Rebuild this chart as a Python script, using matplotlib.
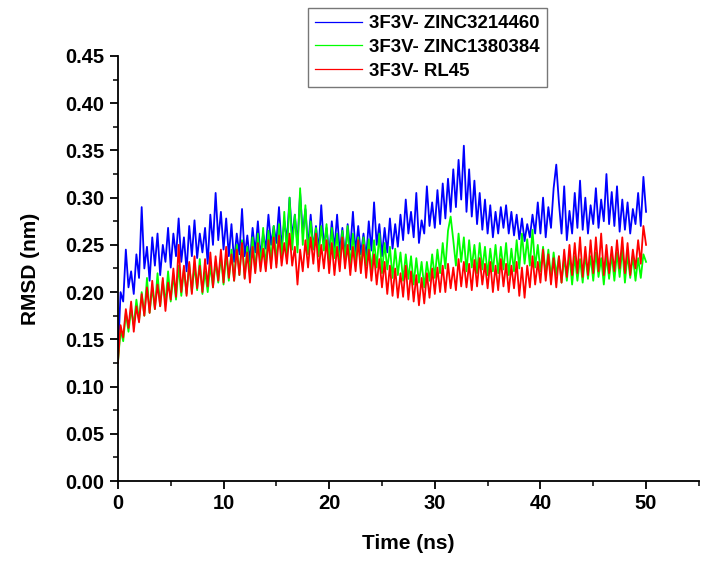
import numpy as np
import matplotlib.pyplot as plt
from matplotlib.ticker import MultipleLocator

# RMSD values, one every 0.25 ns (4 per ns row)
time_ns = np.arange(0, 50.01, 0.25)

rmsd_zinc3214460 = [
    0.130, 0.200, 0.190, 0.245,  0.205, 0.222, 0.198, 0.240,
    0.215, 0.290, 0.225, 0.248,  0.212, 0.258, 0.228, 0.262,
    0.218, 0.250, 0.232, 0.268,  0.226, 0.262, 0.238, 0.278,
    0.232, 0.258, 0.222, 0.270,  0.238, 0.276, 0.236, 0.262,
    0.242, 0.268, 0.230, 0.282,  0.250, 0.305, 0.255, 0.285,
    0.245, 0.278, 0.238, 0.272,  0.232, 0.262, 0.240, 0.288,
    0.238, 0.260, 0.232, 0.268,  0.242, 0.275, 0.238, 0.262,
    0.246, 0.282, 0.250, 0.270,  0.252, 0.290, 0.248, 0.275,
    0.255, 0.300, 0.258, 0.282,  0.250, 0.305, 0.262, 0.288,
    0.248, 0.282, 0.246, 0.270,  0.244, 0.292, 0.248, 0.268,
    0.240, 0.275, 0.245, 0.282,  0.242, 0.268, 0.238, 0.272,
    0.245, 0.285, 0.242, 0.270,  0.240, 0.262, 0.236, 0.275,
    0.244, 0.295, 0.250, 0.272,  0.238, 0.268, 0.242, 0.278,
    0.246, 0.272, 0.248, 0.282,  0.255, 0.298, 0.262, 0.285,
    0.258, 0.305, 0.252, 0.276,  0.262, 0.312, 0.270, 0.295,
    0.268, 0.308, 0.272, 0.315,  0.278, 0.320, 0.285, 0.330,
    0.290, 0.340, 0.298, 0.355,  0.285, 0.330, 0.280, 0.318,
    0.272, 0.305, 0.266, 0.298,  0.262, 0.292, 0.258, 0.285,
    0.262, 0.290, 0.268, 0.292,  0.262, 0.285, 0.260, 0.282,
    0.256, 0.278, 0.254, 0.272,  0.258, 0.282, 0.262, 0.295,
    0.262, 0.300, 0.258, 0.290,  0.268, 0.310, 0.335, 0.295,
    0.262, 0.312, 0.255, 0.286,  0.262, 0.305, 0.268, 0.318,
    0.266, 0.300, 0.262, 0.292,  0.272, 0.310, 0.268, 0.298,
    0.275, 0.325, 0.272, 0.306,  0.270, 0.312, 0.264, 0.298,
    0.266, 0.295, 0.262, 0.288,  0.272, 0.305, 0.270, 0.322,
    0.285,
]

rmsd_zinc1380384 = [
    0.125, 0.160, 0.148, 0.178,  0.158, 0.182, 0.165, 0.192,
    0.170, 0.200, 0.175, 0.215,  0.178, 0.205, 0.182, 0.220,
    0.185, 0.212, 0.188, 0.222,  0.190, 0.218, 0.192, 0.228,
    0.196, 0.225, 0.198, 0.230,  0.200, 0.228, 0.202, 0.235,
    0.198, 0.222, 0.200, 0.228,  0.205, 0.232, 0.210, 0.238,
    0.208, 0.240, 0.212, 0.245,  0.212, 0.250, 0.218, 0.255,
    0.215, 0.248, 0.220, 0.258,  0.222, 0.262, 0.228, 0.268,
    0.225, 0.265, 0.232, 0.270,  0.230, 0.272, 0.236, 0.285,
    0.238, 0.300, 0.245, 0.282,  0.242, 0.310, 0.250, 0.292,
    0.240, 0.275, 0.245, 0.268,  0.238, 0.270, 0.244, 0.272,
    0.232, 0.268, 0.236, 0.262,  0.230, 0.265, 0.234, 0.270,
    0.226, 0.262, 0.232, 0.258,  0.224, 0.258, 0.228, 0.256,
    0.222, 0.255, 0.226, 0.262,  0.220, 0.252, 0.224, 0.248,
    0.215, 0.246, 0.218, 0.242,  0.212, 0.240, 0.214, 0.238,
    0.208, 0.236, 0.210, 0.232,  0.205, 0.232, 0.212, 0.240,
    0.215, 0.245, 0.220, 0.252,  0.225, 0.265, 0.280, 0.255,
    0.228, 0.262, 0.232, 0.258,  0.222, 0.255, 0.226, 0.250,
    0.220, 0.252, 0.224, 0.248,  0.218, 0.246, 0.222, 0.250,
    0.220, 0.248, 0.224, 0.252,  0.218, 0.246, 0.222, 0.255,
    0.225, 0.262, 0.230, 0.256,  0.228, 0.266, 0.226, 0.250,
    0.222, 0.248, 0.218, 0.245,  0.215, 0.242, 0.218, 0.238,
    0.210, 0.236, 0.212, 0.240,  0.208, 0.238, 0.212, 0.235,
    0.210, 0.240, 0.214, 0.238,  0.212, 0.242, 0.216, 0.236,
    0.208, 0.238, 0.214, 0.240,  0.212, 0.242, 0.216, 0.246,
    0.210, 0.240, 0.215, 0.238,  0.212, 0.236, 0.215, 0.240,
    0.232,
]

rmsd_rl45 = [
    0.125, 0.165, 0.152, 0.182,  0.162, 0.190, 0.158, 0.185,
    0.168, 0.198, 0.175, 0.205,  0.178, 0.212, 0.182, 0.208,
    0.185, 0.215, 0.180, 0.210,  0.192, 0.225, 0.195, 0.250,
    0.200, 0.228, 0.196, 0.232,  0.198, 0.238, 0.204, 0.228,
    0.200, 0.235, 0.206, 0.242,  0.205, 0.238, 0.212, 0.245,
    0.210, 0.248, 0.215, 0.240,  0.212, 0.245, 0.218, 0.252,
    0.214, 0.242, 0.210, 0.248,  0.220, 0.252, 0.222, 0.246,
    0.222, 0.255, 0.225, 0.258,  0.226, 0.260, 0.228, 0.252,
    0.230, 0.262, 0.228, 0.248,  0.208, 0.245, 0.222, 0.255,
    0.226, 0.258, 0.230, 0.262,  0.222, 0.250, 0.225, 0.255,
    0.220, 0.252, 0.218, 0.248,  0.222, 0.258, 0.225, 0.250,
    0.218, 0.248, 0.222, 0.255,  0.220, 0.250, 0.215, 0.245,
    0.212, 0.240, 0.208, 0.235,  0.205, 0.232, 0.198, 0.228,
    0.196, 0.225, 0.194, 0.220,  0.195, 0.228, 0.192, 0.222,
    0.190, 0.218, 0.186, 0.215,  0.188, 0.220, 0.194, 0.225,
    0.198, 0.226, 0.200, 0.228,  0.200, 0.230, 0.204, 0.226,
    0.202, 0.235, 0.206, 0.232,  0.205, 0.230, 0.202, 0.234,
    0.206, 0.236, 0.208, 0.230,  0.204, 0.232, 0.200, 0.228,
    0.202, 0.235, 0.206, 0.230,  0.200, 0.228, 0.204, 0.232,
    0.196, 0.226, 0.194, 0.228,  0.205, 0.238, 0.208, 0.232,
    0.210, 0.245, 0.212, 0.240,  0.208, 0.236, 0.205, 0.238,
    0.210, 0.245, 0.216, 0.250,  0.218, 0.252, 0.220, 0.258,
    0.216, 0.248, 0.218, 0.255,  0.220, 0.258, 0.222, 0.262,
    0.218, 0.250, 0.220, 0.248,  0.222, 0.255, 0.225, 0.258,
    0.220, 0.252, 0.218, 0.245,  0.225, 0.255, 0.230, 0.270,
    0.250,
]

labels = ['3F3V- ZINC3214460', '3F3V- ZINC1380384', '3F3V- RL45']
colors = ['#0000ff', '#00ff00', '#ff0000']

plt.rcParams['font.family'] = ['Liberation Sans', 'DejaVu Sans']
plt.rcParams['font.weight'] = 'bold'

fig = plt.figure(figsize=(7.19, 5.61), dpi=100)
ax = fig.add_axes([0.164, 0.1426, 0.808, 0.7576])

for y, lab, c in zip([rmsd_zinc3214460, rmsd_zinc1380384, rmsd_rl45], labels, colors):
    ax.plot(time_ns, y, color=c, lw=1.3, label=lab)

ax.set_xlim(0, 55)
ax.set_ylim(0, 0.45)
ax.xaxis.set_major_locator(MultipleLocator(10))
ax.xaxis.set_minor_locator(MultipleLocator(5))
ax.yaxis.set_major_locator(MultipleLocator(0.05))
ax.yaxis.set_minor_locator(MultipleLocator(0.025))
ax.yaxis.set_major_formatter(plt.FormatStrFormatter('%.2f'))

ax.spines['top'].set_visible(False)
ax.spines['right'].set_visible(False)
for s in ['left', 'bottom']:
    ax.spines[s].set_linewidth(1.3)
ax.tick_params(which='major', direction='out', length=6, width=1.3, labelsize=14.5)
ax.tick_params(which='minor', direction='out', length=3.5, width=1.1)

ax.set_xlabel('Time (ns)', fontsize=15, fontweight='bold', labelpad=15)
ax.set_ylabel('RMSD (nm)', fontsize=15, fontweight='bold', labelpad=18)

leg = ax.legend(loc='upper left', bbox_to_anchor=(0.327, 1.113), borderaxespad=0,
                fancybox=False, frameon=True, fontsize=13.4, handlelength=2.5,
                handletextpad=0.38, labelspacing=0.35, borderpad=0.4)
leg.get_frame().set_edgecolor('#555555')
leg.get_frame().set_linewidth(1.0)
for line in leg.get_lines():
    line.set_linewidth(0.9)

fig.savefig('out.png', dpi=100)
